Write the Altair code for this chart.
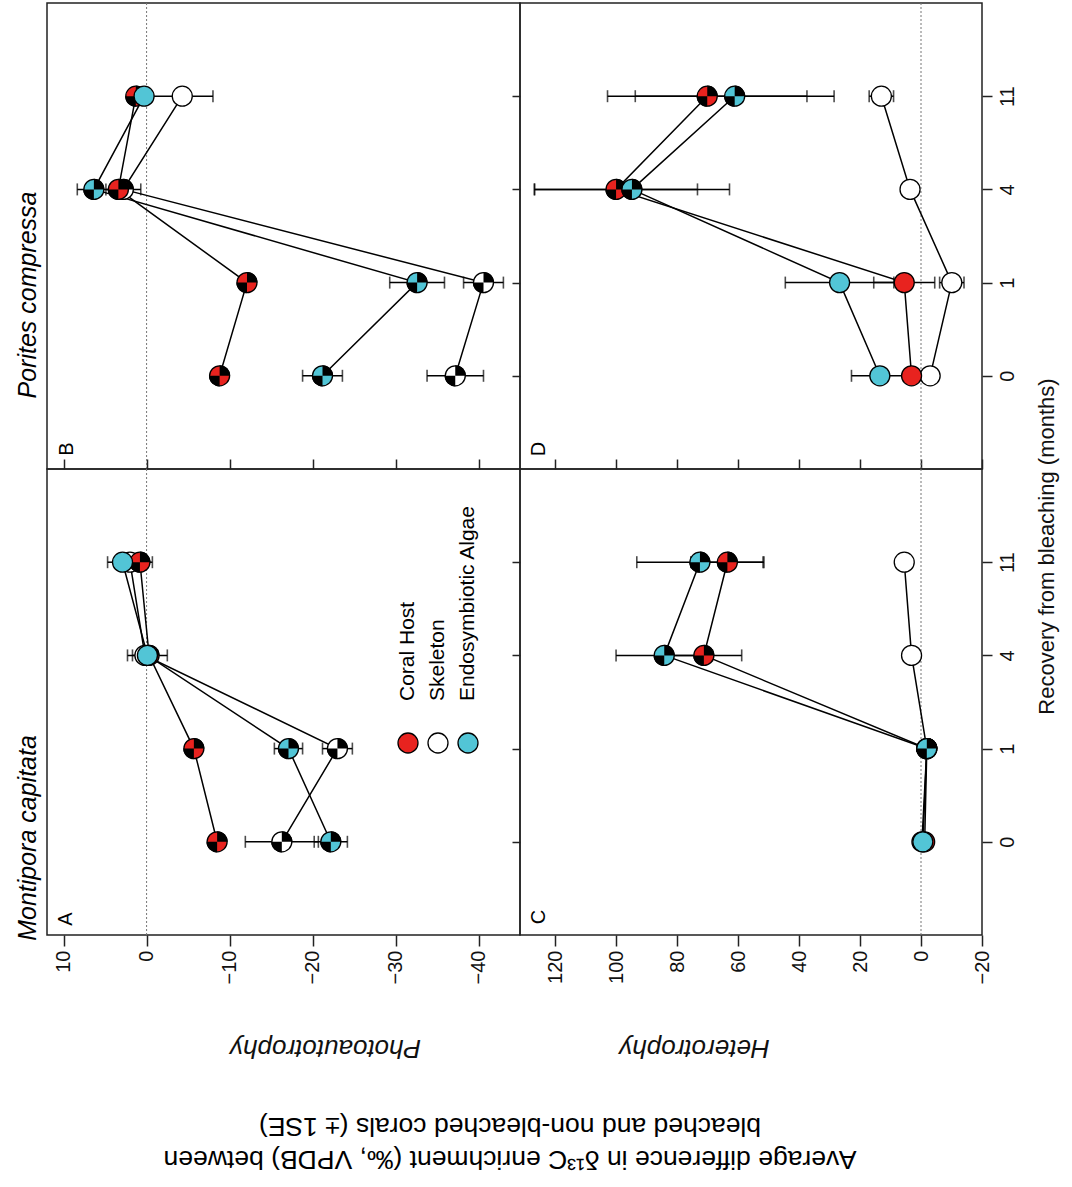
import math
import altair as alt
import pandas as pd

# ---------------- data ----------------
months = ["0", "1", "4", "11"]
series_order = ["Skeleton", "Coral Host", "Endosymbiotic Algae"]   # drawing order
legend_order = ["Coral Host", "Skeleton", "Endosymbiotic Algae"]
series_colors = {"Coral Host": "#e8231f", "Skeleton": "#ffffff", "Endosymbiotic Algae": "#52c5d6"}

# Panel A: Montipora capitata, photoautotrophy
A_host = [-8.5, -5.7, -0.3, 0.8]
A_host_se = [0.6, 0.6, 1.0, 1.5]
A_host_sig = [1, 1, 1, 1]
A_skel = [-16.3, -23.0, 0.2, 2.0]
A_skel_se = [4.4, 1.8, 1.5, 1.0]
A_skel_sig = [1, 1, 0, 0]
A_alg = [-22.2, -17.1, -0.1, 2.9]
A_alg_se = [2.0, 1.7, 2.4, 1.8]
A_alg_sig = [1, 1, 0, 0]

# Panel B: Porites compressa, photoautotrophy
B_host = [-8.8, -12.1, 3.4, 1.3]
B_host_se = [0.6, 0.6, 0.8, 0.6]
B_host_sig = [1, 1, 1, 1]
B_skel = [-37.2, -40.6, 2.8, -4.3]
B_skel_se = [3.4, 2.4, 2.1, 3.7]
B_skel_sig = [1, 1, 1, 0]
B_alg = [-21.2, -32.6, 6.35, 0.3]
B_alg_se = [2.4, 3.3, 2.0, 0.8]
B_alg_sig = [1, 1, 1, 0]

# Panel C: Montipora capitata, heterotrophy
C_host = [-1.2, -1.9, 71.2, 63.5]
C_host_se = [0.5, 0.5, 12.4, 12.0]
C_host_sig = [0, 1, 1, 1]
C_skel = [-0.3, -1.9, 3.1, 5.5]
C_skel_se = [0.5, 0.5, 1.0, 1.0]
C_skel_sig = [0, 1, 0, 0]
C_alg = [-0.6, -1.9, 84.2, 72.5]
C_alg_se = [0.5, 0.5, 15.8, 20.7]
C_alg_sig = [0, 1, 1, 1]

# Panel D: Porites compressa, heterotrophy
D_host = [3.1, 5.5, 100.0, 70.1]
D_host_se = [1.0, 10.0, 26.7, 32.7]
D_host_sig = [0, 0, 1, 1]
D_skel = [-3.0, -10.1, 3.6, 13.0]
D_skel_se = [0.8, 4.0, 1.0, 4.0]
D_skel_sig = [0, 0, 0, 0]
D_alg = [13.5, 26.7, 94.8, 61.1]
D_alg_se = [9.3, 17.8, 32.0, 32.6]
D_alg_sig = [0, 0, 1, 1]

photo_ticks = [10, 0, -10, -20, -30, -40]
hetero_ticks = [120, 100, 80, 60, 40, 20, 0, -20]

FONT = "Liberation Sans"


def make_df(host, host_se, host_sig, skel, skel_se, skel_sig, alg, alg_se, alg_sig):
    src = {
        "Coral Host": (host, host_se, host_sig),
        "Skeleton": (skel, skel_se, skel_sig),
        "Endosymbiotic Algae": (alg, alg_se, alg_sig),
    }
    rows = []
    for s in series_order:
        v, se, sig = src[s]
        for i in range(len(months)):
            rows.append({"series": s, "idx": i, "month": months[i], "value": v[i],
                         "lo": v[i] - se[i], "hi": v[i] + se[i], "sig": sig[i]})
    return pd.DataFrame(rows)


def one_text(text, x, y, size, angle, align="center", baseline="middle", style="normal", line_height=None):
    kw = dict(text=text, angle=angle, align=align, baseline=baseline, fontSize=size,
              font=FONT, fontStyle=style, color="black")
    if line_height is not None:
        kw["lineHeight"] = line_height
    return alt.Chart(pd.DataFrame({"k": [0]})).mark_text(**kw).encode(
        x=alt.value(x), y=alt.value(y))


def panel(df, xdomain, xticks, width, height, top_row, right_col, xtitle=None,
          xtitle_x=0, ytitle=None, extra=None):
    xscale = alt.Scale(domain=xdomain, nice=False, zero=False)
    yscale = alt.Scale(domain=[-1, 4], nice=False, zero=False)
    if top_row:
        xaxis = alt.Axis(values=xticks, labels=False, tickSize=10, offset=-10, domain=False,
                         grid=False, title=None)
    else:
        xaxis = alt.Axis(values=xticks, labelAngle=270, labelAlign="right", labelBaseline="middle",
                         labelFontSize=20, labelPadding=4, tickSize=11, domain=False, grid=False,
                         title=xtitle, titleAngle=180, titleFontStyle="italic", titleFontSize=26,
                         titleFontWeight="normal", titleX=xtitle_x, titleY=112,
                         titleAlign="center", titleBaseline="middle")
    if right_col:
        yaxis_kw = dict(orient="right", values=[0, 1, 2, 3],
                        labelExpr="['0','1','4','11'][datum.value]",
                        labelAngle=270, labelAlign="center", labelBaseline="top",
                        labelFontSize=20, labelPadding=5, tickSize=10, domain=False, grid=False)
        if ytitle:
            yaxis_kw.update(title=ytitle, titleAngle=270, titleFontSize=22, titleFontWeight="normal",
                            titleX=64, titleY=77, titleAlign="center", titleBaseline="middle")
        else:
            yaxis_kw.update(title=None)
        yaxis = alt.Axis(**yaxis_kw)
    else:
        yaxis = alt.Axis(orient="right", values=[0, 1, 2, 3], labels=False, tickSize=8, offset=-8,
                         domain=False, grid=False, title=None)

    X = lambda f: alt.X(f"{f}:Q", scale=xscale, axis=xaxis)
    Y = alt.Y("idx:Q", scale=yscale, axis=yaxis)

    base = alt.Chart(df)
    zero = alt.Chart(pd.DataFrame({"value": [0]})).mark_rule(
        color="#777777", strokeDash=[2, 2], strokeWidth=1).encode(x=X("value"))
    lines = base.mark_line(color="black", strokeWidth=1.5).encode(
        x=X("value"), y=Y, detail="series:N", order="idx:Q")
    bars = base.mark_rule(color="black", strokeWidth=1.5).encode(
        x=X("lo"), x2="hi:Q", y=Y)
    cap_lo = base.mark_tick(orient="vertical", size=12, thickness=1.6, color="black").encode(
        x=X("lo"), y=Y)
    cap_hi = base.mark_tick(orient="vertical", size=12, thickness=1.6, color="black").encode(
        x=X("hi"), y=Y)
    layers = [zero, lines, bars, cap_lo, cap_hi]
    for s in series_order:
        sub = base.transform_filter(alt.datum.series == s)
        layers.append(sub.mark_circle(size=400, color=series_colors[s], opacity=1,
                                      stroke="black", strokeWidth=1.3).encode(x=X("value"), y=Y))
        sig = sub.transform_filter("datum.sig == 1")
        for t0 in (0.0, math.pi):
            layers.append(sig.mark_arc(theta=t0, theta2=t0 + math.pi / 2, radius=10.6,
                                       color="black").encode(x=X("value"), y=Y))
    if extra:
        layers.extend(extra)
    return alt.layer(*layers).properties(width=width, height=height)


dfA = make_df(A_host, A_host_se, A_host_sig, A_skel, A_skel_se, A_skel_sig, A_alg, A_alg_se, A_alg_sig)
dfB = make_df(B_host, B_host_se, B_host_sig, B_skel, B_skel_se, B_skel_sig, B_alg, B_alg_se, B_alg_sig)
dfC = make_df(C_host, C_host_se, C_host_sig, C_skel, C_skel_se, C_skel_sig, C_alg, C_alg_se, C_alg_sig)
dfD = make_df(D_host, D_host_se, D_host_sig, D_skel, D_skel_se, D_skel_sig, D_alg, D_alg_se, D_alg_sig)

WL, WR, H = 473, 462, 466
photo_dom = [12, -45]
hetero_dom = [131.5, -20]

# legend (inside panel A)
legend_layers = []
for k, name in enumerate(legend_order):
    lx = 361 + 30 * k
    legend_layers.append(alt.Chart(pd.DataFrame({"k": [0]})).mark_circle(
        size=400, color=series_colors[name], opacity=1, stroke="black", strokeWidth=1.3
    ).encode(x=alt.value(lx), y=alt.value(274)))
    legend_layers.append(one_text(name, lx, 232, 21, 270, align="left"))

title_lines = ["Average difference in \u03b4\u00b9\u00b3C enrichment (\u2030, VPDB) between",
               "bleached and non-bleached corals (\u00b1 1SE)"]

extraA = legend_layers + [
    one_text("A", 19, 450, 20, 270),
    one_text("Montipora capitata", -19, 369, 25, 270, style="italic"),
    one_text(title_lines, 463, 690, 26.5, 180, line_height=33),
]
extraB = [
    one_text("B", 20, 446, 20, 270),
    one_text("Porites compressa", -19, 292, 25, 270, style="italic"),
]
extraC = [one_text("C", 19, 448, 20, 270)]
extraD = [one_text("D", 19, 446, 20, 270)]

pB = panel(dfB, photo_dom, photo_ticks, WL, H, top_row=True, right_col=False, extra=extraB)
pA = panel(dfA, photo_dom, photo_ticks, WL, H, top_row=False, right_col=False,
           xtitle="Photoautotrophy", xtitle_x=278, extra=extraA)
pD = panel(dfD, hetero_dom, hetero_ticks, WR, H, top_row=True, right_col=True, extra=extraD)
pC = panel(dfC, hetero_dom, hetero_ticks, WR, H, top_row=False, right_col=True,
           xtitle="Heterotrophy", xtitle_x=174, ytitle="Recovery from bleaching (months)",
           extra=extraC)

chart = alt.concat(pB, pD, pA, pC, columns=2, spacing=0, bounds="flush").properties(
    padding={"left": 15, "top": 1, "right": 5, "bottom": 5}
).configure(font=FONT).configure_view(
    stroke="#222222", strokeWidth=1.5
).configure_axis(
    labelFont=FONT, titleFont=FONT, labelColor="#111111", titleColor="#111111",
    tickColor="#222222", tickWidth=1.5
)

chart.save("out.html", embed_options={"renderer": "svg", "actions": False})
